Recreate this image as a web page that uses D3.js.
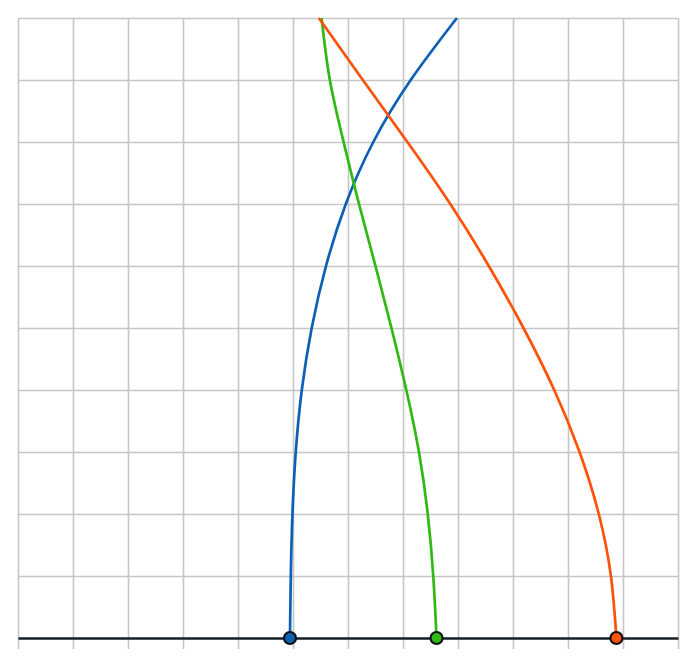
<!DOCTYPE html>
<html>
<head>
<meta charset="utf-8">
<script src="https://cdn.jsdelivr.net/npm/d3@7"></script>
<style>
  html, body { margin: 0; padding: 0; background: #fff; }
  svg { display: block; }
</style>
</head>
<body>
<div class="chartContainer"></div>
<script>
//Colors
var gridColor = "#c6c6c6";
var axisColor = "#17202a";
var blueColor = "#0b60b6";
var greenColor = "#2fb914";
var orangeColor = "#ff5208";

// Data (heights 0..10, horizontal positions)
var heights = [0, 1, 2, 3, 4, 5, 6, 7, 8, 9, 10];
var blueX = [4.945, 4.96, 4.99, 5.05, 5.16, 5.34, 5.6, 5.96, 6.46, 7.14, 7.98];
var greenX = [7.61, 7.55, 7.45, 7.29, 7.06, 6.79, 6.5, 6.2, 5.92, 5.67, 5.52];
var orangeX = [10.88, 10.78, 10.56, 10.21, 9.75, 9.19, 8.56, 7.86, 7.08, 6.27, 5.47];
var xTicks = [0, 1, 2, 3, 4, 5, 6, 7, 8, 9, 10, 11, 12];
var yTicks = [0, 1, 2, 3, 4, 5, 6, 7, 8, 9, 10];

var series = [
    { name: "blue", xs: blueX, color: blueColor },
    { name: "green", xs: greenX, color: greenColor },
    { name: "orange", xs: orangeX, color: orangeColor }
];

var W = 696, H = 669;
var margin = { top: 18, right: 18, bottom: 31, left: 18 };
var width = W - margin.left - margin.right;
var height = H - margin.top - margin.bottom;

var svg = d3.select(".chartContainer").append("svg")
    .attr("width", W)
    .attr("height", H);

var g = svg.append("g")
    .attr("transform", "translate(" + margin.left + "," + margin.top + ")");

var x = d3.scaleLinear().domain([0, 12]).range([0, width]);
var y = d3.scaleLinear().domain([0, 10]).range([height, 0]);

//Grid
var xGrid = g.append("g")
    .attr("class", "xgrid")
    .attr("transform", "translate(0," + height + ")")
    .call(d3.axisBottom(x).tickValues(xTicks).tickSize(-height).tickFormat(""));
xGrid.select(".domain").remove();

var xTickMarks = g.append("g")
    .attr("class", "xticks")
    .attr("transform", "translate(0," + height + ")")
    .call(d3.axisBottom(x).tickValues(xTicks).tickSize(11).tickSizeOuter(0).tickFormat(""));
xTickMarks.select(".domain").remove();

var yGrid = g.append("g")
    .attr("class", "ygrid")
    .call(d3.axisLeft(y).tickValues(yTicks).tickSize(-width).tickFormat(""));
yGrid.select(".domain").remove();

g.selectAll(".xgrid line, .xticks line, .ygrid line")
    .attr("stroke", gridColor)
    .attr("stroke-width", 1.6);

//Base axis
var baseAxis = g.append("g")
    .attr("transform", "translate(0," + height + ")")
    .call(d3.axisBottom(x).tickValues([]).tickSizeOuter(0));
baseAxis.select(".domain")
    .attr("stroke", axisColor)
    .attr("stroke-width", 2.5);

//Curves
var line = d3.line()
    .x((d) => x(d[0]))
    .y((d) => y(d[1]))
    .curve(d3.curveNatural);

g.selectAll(".curve").data(series).enter().append("path")
    .attr("class", "curve")
    .attr("d", (d) => line(d.xs.map((v, i) => [v, heights[i]])))
    .attr("fill", "none")
    .attr("stroke", (d) => d.color)
    .attr("stroke-width", 2.7);

//Start points
g.selectAll(".start").data(series).enter().append("circle")
    .attr("class", "start")
    .attr("cx", (d) => x(d.xs[0]))
    .attr("cy", y(heights[0]))
    .attr("r", 6)
    .attr("fill", (d) => d.color)
    .attr("stroke", "#111")
    .attr("stroke-width", 2.2);
</script>
</body>
</html>
